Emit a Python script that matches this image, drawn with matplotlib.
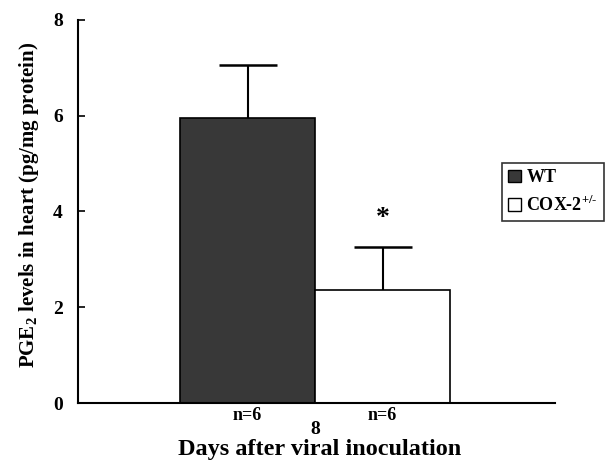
import matplotlib
matplotlib.use("Agg")
import matplotlib.pyplot as plt
from matplotlib.patches import Patch

plt.rcParams['font.family'] = ['Liberation Serif', 'DejaVu Serif']
plt.rcParams['font.weight'] = 'bold'
plt.rcParams['mathtext.fontset'] = 'custom'
plt.rcParams['mathtext.rm'] = 'Liberation Serif:bold'
plt.rcParams['mathtext.bf'] = 'Liberation Serif:bold'

groups = ['WT', 'COX-2$^{+/\u2010}$']
means = [5.95, 2.35]
errors = [1.12, 0.9]
n_labels = ['n=6', 'n=6']
day_label = '8'
colors = ['#383838', 'white']
yticks = [0, 2, 4, 6, 8]

fig = plt.figure(figsize=(6.08, 4.73), dpi=100)
ax = fig.add_axes([78/608, 1-403/473, (555-78)/608, (403-20)/473])

xs = [0, 1]
ax.bar(xs, means, width=1.0, color=colors, edgecolor='black', linewidth=1.2)
eb = ax.errorbar(xs, means, yerr=[[0, 0], errors], fmt='none', ecolor='black',
                 elinewidth=1.5, capsize=21, capthick=1.8)
eb[1][0].set_visible(False)
ax.text(1, means[1] + errors[1] + 0.6, '*', ha='center', va='center',
        fontsize=20, fontweight='bold')

ax.set_xlim(-1.256, 2.277)
ax.set_ylim(0, 8)
ax.set_yticks(yticks)
ax.set_yticklabels([str(t) for t in yticks], fontsize=14, fontweight='bold')
ax.tick_params(axis='y', direction='in', length=5, width=1.2, pad=11)
ax.set_xticks([])
for s in ['top', 'right']:
    ax.spines[s].set_visible(False)
for s in ['left', 'bottom']:
    ax.spines[s].set_linewidth(1.5)

for x, t in zip(xs, n_labels):
    ax.text(x, -0.26, t, ha='center', va='center', fontsize=13, fontweight='bold')
ax.text(0.5, -0.56, day_label, ha='center', va='center', fontsize=14, fontweight='bold')

fig.text(320/608, 1-449/473, 'Days after viral inoculation', ha='center', va='center',
         fontsize=17.5, fontweight='bold')
fig.text(29/608, 1-205/473, 'PGE$_2$ levels in heart (pg/mg protein)', ha='center',
         va='center', rotation=90, fontsize=15, fontweight='bold')

handles = [Patch(facecolor=colors[0], edgecolor='black', label=groups[0]),
           Patch(facecolor=colors[1], edgecolor='black', label=groups[1])]
leg = fig.legend(handles=handles, loc='upper left', bbox_to_anchor=(502/608, 1-163/473),
                 frameon=True, fancybox=False, edgecolor='black', fontsize=13,
                 handlelength=0.7, handleheight=0.7, handletextpad=0.3,
                 borderpad=0.35, labelspacing=0.45, borderaxespad=0)
leg.get_frame().set_linewidth(1.2)

fig.savefig('out.png', dpi=100)
